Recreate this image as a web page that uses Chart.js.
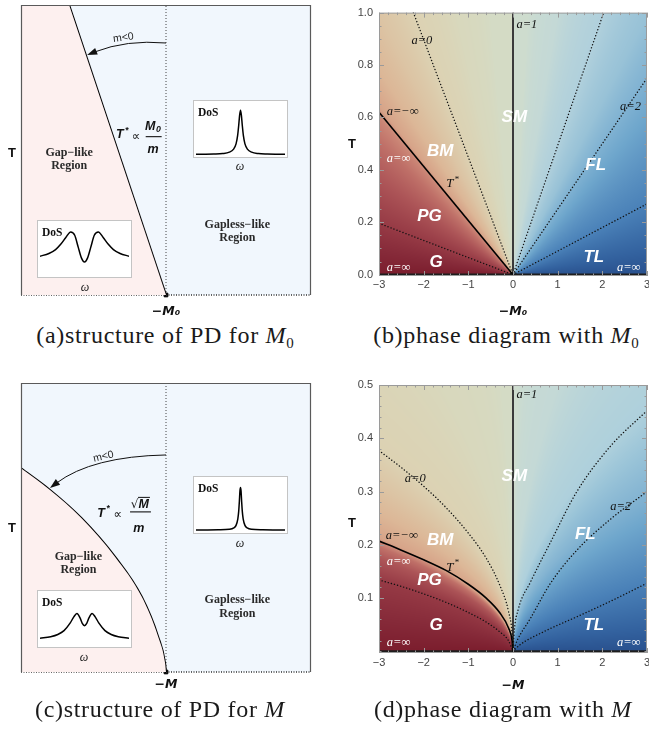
<!DOCTYPE html>
<html><head><meta charset="utf-8">
<script src="https://cdn.jsdelivr.net/npm/chart.js@4.4.1/dist/chart.umd.min.js"></script>
<style>
html,body{margin:0;padding:0;background:#fff;}
body{width:649px;height:729px;overflow:hidden;position:relative;}
canvas.main{position:absolute;}
.inset{position:absolute;background:#fff;border:1px solid #c4c4c4;box-sizing:border-box;}
.inset canvas{position:absolute;left:0;top:0;}
.dos{position:absolute;left:4px;top:5px;font:bold 11.5px 'Liberation Serif',serif;color:#111;line-height:12px;}
.omega{position:absolute;font:italic 12px 'Liberation Serif',serif;color:#222;transform:translate(-50%,-50%);}
.lbl{position:absolute;transform:translate(-50%,-50%);white-space:nowrap;}
.cap{font:24px 'Liberation Serif',serif;letter-spacing:0.7px;color:#1a1a1a;}
.cap sub{font-size:15px;letter-spacing:0;}
.ax{font:bold 13px 'Liberation Sans',sans-serif;color:#111;}
</style></head><body>
<canvas id="ca" class="main" width="330" height="320" style="left:0;top:0"></canvas>
<canvas id="cb" class="main" width="330" height="320" style="left:330px;top:0"></canvas>
<canvas id="cc" class="main" width="330" height="330" style="left:0;top:370px"></canvas>
<canvas id="cd" class="main" width="330" height="330" style="left:330px;top:370px"></canvas>

<div class="inset" style="left:193px;top:100px;width:95px;height:58px"><canvas id="ia1" width="93" height="56"></canvas><span class="dos">DoS</span></div>
<div class="omega" style="left:240px;top:166px">ω</div>
<div class="inset" style="left:37px;top:220px;width:95px;height:58px"><canvas id="ia2" width="93" height="56"></canvas><span class="dos">DoS</span></div>
<div class="omega" style="left:85px;top:287px">ω</div>
<div class="inset" style="left:193px;top:476px;width:95px;height:58px"><canvas id="ic1" width="93" height="56"></canvas><span class="dos">DoS</span></div>
<div class="omega" style="left:240px;top:543px">ω</div>
<div class="inset" style="left:37px;top:590px;width:95px;height:58px"><canvas id="ic2" width="93" height="56"></canvas><span class="dos">DoS</span></div>
<div class="omega" style="left:84px;top:657px">ω</div>

<div class="lbl ax" style="left:12px;top:152px">T</div>
<div class="lbl ax" style="left:352px;top:143px">T</div>
<div class="lbl ax" style="left:12px;top:527px">T</div>
<div class="lbl ax" style="left:352px;top:522px">T</div>

<div class="lbl cap" style="left:165px;top:337px">(a)structure of PD for <i>M</i><sub>0</sub></div>
<div class="lbl cap" style="left:506px;top:337px">(b)phase diagram with <i>M</i><sub>0</sub></div>
<div class="lbl cap" style="left:160px;top:709px">(c)structure of PD for <i>M</i></div>
<div class="lbl cap" style="left:503px;top:709px">(d)phase diagram with <i>M</i></div>

<script>
// ================= DATA =================
// (a) structure of PD for M0 -- schematic units 0..10
const aXTicks = [5];
const aXTickLabels = ['−M₀'];
const aTStarX = [1.66, 5];
const aTStarY = [10, 0];
const aArrowX = [5, 3.64, 2.28];   // start, control, tip
const aArrowY = [8.69, 8.81, 8.28];

// (c) structure of PD for M
const cXTicks = [5];
const cXTickLabels = ['−M'];
const cTStarX = [0, 1.0, 2.09, 3.24, 4.16, 4.73, 4.97, 5];
const cTStarY = [7.05, 6.30, 5.32, 3.99, 2.61, 1.22, 0.30, 0];
const cArrowX = [5, 2.45, 1.0];
const cArrowY = [7.51, 7.46, 6.37];

// DoS insets
const dosGaplessAW = [-1,-0.6,-0.4,-0.25,-0.16,-0.1,-0.065,-0.04,-0.02,0,0.02,0.04,0.065,0.1,0.16,0.25,0.4,0.6,1];
const dosGaplessA  = [0.033,0.037,0.045,0.07,0.12,0.22,0.37,0.56,0.74,0.83,0.74,0.56,0.37,0.22,0.12,0.07,0.045,0.037,0.033];
const dosGapAW = [-1,-0.8,-0.65,-0.53,-0.42,-0.31,-0.22,-0.14,-0.07,0,0.07,0.14,0.22,0.31,0.42,0.53,0.65,0.8,1];
const dosGapA  = [0.36,0.41,0.48,0.58,0.70,0.80,0.74,0.52,0.33,0.255,0.33,0.52,0.74,0.80,0.70,0.58,0.48,0.41,0.36];
const dosGaplessCW = [-1,-0.5,-0.25,-0.15,-0.1,-0.06,-0.04,-0.025,-0.012,0,0.012,0.025,0.04,0.06,0.1,0.15,0.25,0.5,1];
const dosGaplessC  = [0.036,0.04,0.05,0.076,0.12,0.24,0.38,0.565,0.75,0.81,0.75,0.565,0.38,0.24,0.12,0.076,0.05,0.04,0.036];
const dosGapCW = [-1,-0.76,-0.6,-0.46,-0.32,-0.24,-0.17,-0.1,-0.05,0,0.05,0.1,0.17,0.24,0.32,0.46,0.6,0.76,1];
const dosGapC  = [0.14,0.17,0.21,0.28,0.42,0.53,0.59,0.51,0.41,0.37,0.41,0.51,0.59,0.53,0.42,0.28,0.21,0.17,0.14];

// (b) phase diagram with M0
const bXTicks = [-3,-2,-1,0,1,2,3];
const bXTickLabels = ['−3','−2','−1','0','1','2','3'];
const bYTicks = [0,0.2,0.4,0.6,0.8,1.0];
const bYTickLabels = ['0.0','0.2','0.4','0.6','0.8','1.0'];
const bTStarX = [-3, 0],    bTStarY = [0.62, 0];
const bA0X = [-2.23, 0],    bA0Y = [1, 0];
const bLowLX = [-3, 0],     bLowLY = [0.196, 0];
const bUpRX = [0, 2.03],    bUpRY = [0, 1];
const bA2X = [0, 3],        bA2Y = [0, 0.75];
const bLowRX = [0, 3],      bLowRY = [0, 0.27];

// (d) phase diagram with M
const dXTicks = [-3,-2,-1,0,1,2,3];
const dXTickLabels = ['−3','−2','−1','0','1','2','3'];
const dYTicks = [0.1,0.2,0.3,0.4,0.5];
const dYTickLabels = ['0.1','0.2','0.3','0.4','0.5'];
const dA0X = [-3,-2.5,-2,-1.5,-1,-0.6,-0.3,-0.1,-0.02,0];
const dA0Y = [0.377,0.345,0.31,0.27,0.222,0.175,0.125,0.075,0.033,0];
const dTStarX = [-3,-2.5,-2,-1.5,-1,-0.6,-0.3,-0.1,-0.02,0];
const dTStarY = [0.207,0.19,0.172,0.152,0.126,0.1,0.073,0.044,0.02,0];
const dLowLX = [-3,-2.5,-2,-1.5,-1,-0.6,-0.3,-0.1,0];
const dLowLY = [0.134,0.122,0.108,0.092,0.073,0.055,0.037,0.02,0];
const dUpRX = [0,0.03,0.12,0.39,0.84,1.43,2.18,3];
const dUpRY = [0,0.04,0.08,0.13,0.205,0.3,0.385,0.452];
const dA2X = [0,0.09,0.39,0.84,1.43,2.18,3];
const dA2Y = [0,0.02,0.062,0.128,0.19,0.248,0.30];
const dLowRX = [0,0.15,0.69,1.43,2.18,3];
const dLowRY = [0,0.012,0.037,0.065,0.094,0.128];

// ================= STYLE / HELPERS =================
Chart.defaults.font.family = "'Liberation Sans', Arial, sans-serif";
const PINK = '#fdf0ef', LBLUE = '#f1f7fd';
const pts = (xs, ys) => xs.map((x, i) => ({x, y: ys[i]}));

function hex(h){return [parseInt(h.slice(1,3),16),parseInt(h.slice(3,5),16),parseInt(h.slice(5,7),16)];}
function prep(stops){return stops.map(s=>[s[0],hex(s[1])]);}
function interp(st,u){
  if(u<=st[0][0]) return st[0][1];
  for(let i=1;i<st.length;i++){
    if(u<=st[i][0]){const a=st[i-1],b=st[i];const t=(u-a[0])/(b[0]-a[0]);
      return [a[1][0]+(b[1][0]-a[1][0])*t,a[1][1]+(b[1][1]-a[1][1])*t,a[1][2]+(b[1][2]-a[1][2])*t];}
  }
  return st[st.length-1][1];
}
const heatB = {
  p:1,
  left: prep([[0,'#7b1d2d'],[0.03,'#862a39'],[0.065,'#963a45'],[0.12,'#ac5457'],[0.17,'#bf7068'],[0.2,'#cb8676'],[0.215,'#d7a489'],[0.26,'#dcb797'],[0.33,'#dcc4a4'],[0.45,'#dcd2b3'],[0.8,'#d8d8bd'],[2,'#d4dbc5'],[1e6,'#d2dcc9']]),
  right: prep([[0,'#29518e'],[0.03,'#33629f'],[0.09,'#4a81b8'],[0.15,'#5e95c3'],[0.2,'#6ea6cc'],[0.25,'#80b2d2'],[0.33,'#98c2d7'],[0.49,'#b0d0dc'],[1,'#c4d9d6'],[3,'#cedcce'],[1e6,'#d2dcc9']])
};
const heatD = {
  p:0.5,
  left: prep([[0,'#7b1d2d'],[0.035,'#862a39'],[0.077,'#963a45'],[0.1,'#ac5457'],[0.113,'#bf7068'],[0.118,'#cb8676'],[0.123,'#d7a489'],[0.15,'#dcb797'],[0.18,'#dcc4a4'],[0.22,'#dcd2b3'],[0.4,'#d8d8bd'],[1,'#d4dbc5'],[1e6,'#d2dcc9']]),
  right: prep([[0,'#29518e'],[0.025,'#33629f'],[0.074,'#4a81b8'],[0.11,'#5e95c3'],[0.14,'#6ea6cc'],[0.173,'#84b4d2'],[0.22,'#9ac4d8'],[0.261,'#aed0dc'],[0.5,'#c4d9d6'],[1.5,'#cedcce'],[1e6,'#d2dcc9']])
};
function heatPlugin(h){
  return {id:'heat', beforeDraw(chart){
    const {ctx, chartArea:ca, scales:{x,y}} = chart;
    const L=Math.round(ca.left),T=Math.round(ca.top),w=Math.round(ca.right)-L,hh=Math.round(ca.bottom)-T;
    const off=document.createElement('canvas');off.width=w;off.height=hh;
    const o=off.getContext('2d');const img=o.createImageData(w,hh);const d=img.data;
    for(let j=0;j<hh;j++){const tv=Math.max(0,y.getValueForPixel(T+j+0.5));
      for(let i=0;i<w;i++){const xv=x.getValueForPixel(L+i+0.5);let c;
        if(xv<0) c=interp(h.left, tv/Math.pow(-xv,h.p));
        else if(xv>0) c=interp(h.right, tv/Math.pow(xv,h.p));
        else c=h.right[h.right.length-1][1];
        const k=(j*w+i)*4;d[k]=c[0];d[k+1]=c[1];d[k+2]=c[2];d[k+3]=255;}}
    o.putImageData(img,0,0);ctx.drawImage(off,L,T);
  }};
}
function frameTicks(xStep,yStep){
  return {id:'frameTicks', afterDatasetsDraw(chart){
    const {ctx, chartArea:ca, scales:{x,y}} = chart;
    ctx.save();ctx.strokeStyle='#9a9a9a';ctx.lineWidth=1;
    ctx.strokeRect(ca.left+0.5,ca.top+0.5,ca.right-ca.left-1,ca.bottom-ca.top-1);
    ctx.beginPath();
    const xm=x.ticks.map(t=>t.value), ym=y.ticks.map(t=>t.value);
    for(let k=Math.ceil(x.min/xStep-1e-9);k<=Math.floor(x.max/xStep+1e-9);k++){
      const v=k*xStep;const L=xm.some(m=>Math.abs(m-v)<1e-6)?5:2.5;const px=Math.round(x.getPixelForValue(v))+0.5;
      ctx.moveTo(px,ca.bottom);ctx.lineTo(px,ca.bottom-L);ctx.moveTo(px,ca.top);ctx.lineTo(px,ca.top+L);}
    for(let k=Math.ceil(y.min/yStep-1e-9);k<=Math.floor(y.max/yStep+1e-9);k++){
      const v=k*yStep;const L=ym.some(m=>Math.abs(m-v)<1e-6)?5:2.5;const py=Math.round(y.getPixelForValue(v))+0.5;
      ctx.moveTo(ca.left,py);ctx.lineTo(ca.left+L,py);ctx.moveTo(ca.right,py);ctx.lineTo(ca.right-L,py);}
    ctx.stroke();ctx.restore();
  }};
}
const FONTS = {
  region: ["bold italic 17px 'Liberation Sans'", '#ffffff'],
  aBlk: ["italic 12.5px 'Liberation Serif'", '#111111'],
  aWht: ["italic 12.5px 'Liberation Serif'", '#ffffff'],
  tstar: ["italic 13px 'Liberation Serif'", '#111111'],
  gap: ["bold 12px 'Liberation Serif'", '#2a2a2a'],
  small: ["10.5px 'Liberation Sans'", '#222222'],
  math: ["bold italic 12.5px 'Liberation Sans'", '#111111'],
  prop: ["12px 'DejaVu Sans'", '#111111']
};
function textPlugin(items){
  return {id:'texts', afterDraw(chart){
    const {ctx, scales:{x,y}} = chart;
    ctx.save();ctx.textAlign='center';ctx.textBaseline='middle';
    for(const it of items){
      const px=x.getPixelForValue(it.x), py=y.getPixelForValue(it.y);
      const f=FONTS[it.k]||FONTS.math;ctx.font=f[0];ctx.fillStyle=f[1];ctx.strokeStyle=f[1];
      const fs=parseFloat(f[0].match(/([\d.]+)px/)[1]);
      if(it.k==='bar'){ctx.lineWidth=1.1;ctx.beginPath();ctx.moveTo(px,py);ctx.lineTo(x.getPixelForValue(it.x2),py);ctx.stroke();continue;}
      ctx.save();ctx.translate(px,py);if(it.rot)ctx.rotate(it.rot*Math.PI/180);
      if(it.star){ // T with superscript *
        const w=ctx.measureText(it.t).width;ctx.fillText(it.t,-2,0);
        ctx.font=f[0].replace(/[\d.]+px/,(fs*0.7).toFixed(1)+'px');ctx.fillText('*',w/2+1,-fs*0.35);
      } else if(it.sub){ // text with subscript
        const w=ctx.measureText(it.t).width;const sf=f[0].replace(/[\d.]+px/,(fs*0.7).toFixed(1)+'px');
        ctx.font=sf;const ws=ctx.measureText(it.sub).width;const tot=w+ws+0.5;
        ctx.font=f[0];ctx.fillText(it.t,-tot/2+w/2,0);ctx.font=sf;ctx.fillText(it.sub,-tot/2+w+0.5+ws/2,fs*0.3);
      } else if(it.sqrt){
        ctx.font=FONTS.prop[0];const ws=ctx.measureText('√').width;ctx.font=f[0];const wm=ctx.measureText(it.t).width;
        const tot=ws+wm;ctx.font=FONTS.prop[0];ctx.fillText('√',-tot/2+ws/2,0);ctx.font=f[0];ctx.fillText(it.t,-tot/2+ws+wm/2,0);
        ctx.lineWidth=1;ctx.beginPath();ctx.moveTo(-tot/2+ws-0.5,-7);ctx.lineTo(tot/2+1,-7);ctx.stroke();
      } else ctx.fillText(it.t,0,0);
      ctx.restore();
    }
    ctx.restore();
  }};
}
function arrowPlugin(AX,AY){
  return {id:'arrow', afterDatasetsDraw(chart){
    const {ctx, scales:{x,y}} = chart;
    const p=AX.map((v,i)=>[x.getPixelForValue(v),y.getPixelForValue(AY[i])]);
    const ang=Math.atan2(p[2][1]-p[1][1],p[2][0]-p[1][0]);const len=10,hw=3.6;
    const ex=p[2][0]-Math.cos(ang)*len*0.8, ey=p[2][1]-Math.sin(ang)*len*0.8;
    ctx.save();ctx.strokeStyle='#111';ctx.fillStyle='#111';ctx.lineWidth=1;
    ctx.beginPath();ctx.moveTo(p[0][0],p[0][1]);ctx.quadraticCurveTo(p[1][0],p[1][1],ex,ey);ctx.stroke();
    const bx=p[2][0]-Math.cos(ang)*len, by=p[2][1]-Math.sin(ang)*len;
    ctx.beginPath();ctx.moveTo(p[2][0],p[2][1]);
    ctx.lineTo(bx+Math.sin(ang)*hw,by-Math.cos(ang)*hw);ctx.lineTo(bx-Math.sin(ang)*hw,by+Math.cos(ang)*hw);ctx.closePath();ctx.fill();
    ctx.restore();
  }};
}
function bgPlugin(color){
  return {id:'bg', beforeDraw(chart){const {ctx,chartArea:ca}=chart;ctx.save();ctx.fillStyle=color;ctx.fillRect(ca.left,ca.top,ca.right-ca.left,ca.bottom-ca.top);ctx.restore();}};
}
function schemFrame(){
  return {id:'sframe', afterDatasetsDraw(chart){const {ctx,chartArea:ca}=chart;ctx.save();ctx.strokeStyle='#5a5a5a';ctx.lineWidth=1.2;
    ctx.beginPath();ctx.moveTo(ca.left+0.5,ca.bottom);ctx.lineTo(ca.left+0.5,ca.top+0.5);ctx.lineTo(ca.right-0.5,ca.top+0.5);ctx.lineTo(ca.right-0.5,ca.bottom);ctx.stroke();ctx.restore();}};
}
const baseOpts = {responsive:false, animation:false, events:[], plugins:{legend:{display:false}, tooltip:{enabled:false}}};
const MLABEL_FONT = {size:12.5, weight:'bold', style:'italic', family:"'DejaVu Sans', 'Liberation Sans', sans-serif"};

function schematic(id, o){
  const ds = [
    {data:pts(o.regX,o.regY), showLine:true, borderWidth:0, borderColor:'rgba(0,0,0,0)', pointRadius:0, fill:'origin', backgroundColor:PINK, cubicInterpolationMode:o.interp, tension:0},
    {data:pts(o.tX,o.tY), showLine:true, borderColor:'#000', borderWidth:2, pointRadius:0, cubicInterpolationMode:o.interp, tension:0},
    {data:pts([o.ticks[0],o.ticks[0]],[0,10]), showLine:true, borderColor:'#444', borderWidth:1, borderDash:[1,2], pointRadius:0},
    {data:pts([0,10],[0,0]), showLine:true, borderColor:'#333', borderWidth:1.3, borderDash:[1,1.5], pointRadius:0, clip:4},
    {data:[{x:o.ticks[0],y:0}], showLine:false, pointStyle:'rect', pointRadius:2.6, backgroundColor:'#000', borderColor:'#000', clip:6}
  ];
  new Chart(document.getElementById(id), {type:'scatter', data:{datasets:ds},
    options:Object.assign({}, baseOpts, {
      layout:{padding:{left:21,right:19,top:o.padTop,bottom:0}},
      scales:{
        x:{type:'linear',min:0,max:10, afterBuildTicks:s=>{s.ticks=o.ticks.map(v=>({value:v}));},
           ticks:{callback:(v,i)=>o.labels[i], font:MLABEL_FONT, color:'#111', padding:o.tickPad, maxRotation:0, autoSkip:false},
           grid:{display:false, drawTicks:false}, border:{display:false}, afterFit:s=>{s.height=o.xh;}},
        y:{type:'linear',min:0,max:10,display:false}
      }}),
    plugins:[bgPlugin(LBLUE), schemFrame(), arrowPlugin(o.arX,o.arY), textPlugin(o.texts)]
  });
}
const dotted = (xs,ys)=>({data:pts(xs,ys), showLine:true, borderColor:'#111', borderWidth:1.4, borderDash:[0.1,3.1], borderCapStyle:'round', pointRadius:0, cubicInterpolationMode:'monotone'});
const solid = (xs,ys,c,w)=>({data:pts(xs,ys), showLine:true, borderColor:c, borderWidth:w, pointRadius:0, cubicInterpolationMode:'monotone'});

function phase(id, o){
  new Chart(document.getElementById(id), {type:'scatter', data:{datasets:o.ds},
    options:Object.assign({}, baseOpts, {
      layout:{padding:{left:0,right:13,top:o.padTop,bottom:0}},
      scales:{
        x:{type:'linear',min:-3,max:3, afterBuildTicks:s=>{s.ticks=o.xt.map(v=>({value:v}));},
           ticks:{callback:(v,i)=>o.xl[i], font:{size:11}, color:'#444', padding:o.xtp, maxRotation:0, autoSkip:false},
           grid:{display:false, drawTicks:false}, border:{display:false},
           title:{display:true, text:o.xTitle, font:MLABEL_FONT, color:'#111', padding:{top:0,bottom:o.titlePad}},
           afterFit:s=>{s.height=o.xh;}},
        y:{type:'linear',min:o.ymin,max:o.ymax, afterBuildTicks:s=>{s.ticks=o.yt.map(v=>({value:v}));},
           ticks:{callback:(v,i)=>o.yl[i], font:{size:11}, color:'#444', padding:6, autoSkip:false},
           grid:{display:false, drawTicks:false}, border:{display:false}, afterFit:s=>{s.width=49;}}
      }}),
    plugins:[heatPlugin(o.heat), frameTicks(0.2,o.yStep), textPlugin(o.texts)]
  });
}
function dos(id, xs, ys){
  new Chart(document.getElementById(id), {type:'scatter', data:{datasets:[{data:pts(xs,ys), showLine:true, borderColor:'#000', borderWidth:1.5, pointRadius:0, cubicInterpolationMode:'monotone'}]},
    options:Object.assign({}, baseOpts, {layout:{padding:{left:2,right:2,top:0,bottom:1}},
      scales:{x:{type:'linear',min:-1,max:1,display:false}, y:{type:'linear',min:0,max:1,display:false}}})});
}

// ================= BUILD =================
schematic('ca', {regX:[0,...aTStarX], regY:[10,...aTStarY], tX:aTStarX, tY:aTStarY, interp:'default',
  ticks:aXTicks, labels:aXTickLabels, padTop:5, xh:25, tickPad:9, arX:aArrowX, arY:aArrowY,
  texts:[
    {t:'Gap−like',x:1.66,y:4.90,k:'gap'},{t:'Region',x:1.66,y:4.45,k:'gap'},
    {t:'Gapless−like',x:7.46,y:2.41,k:'gap'},{t:'Region',x:7.46,y:1.96,k:'gap'},
    {t:'m<0',x:3.53,y:8.87,k:'small',rot:-8},
    {t:'T',x:3.48,y:5.52,k:'math',star:true},{t:'∝',x:3.97,y:5.45,k:'prop'},
    {t:'M',sub:'0',x:4.55,y:5.82,k:'math'},{x:4.30,x2:4.85,y:5.46,k:'bar'},{t:'m',x:4.55,y:5.03,k:'math'}
  ]});
schematic('cc', {regX:cTStarX, regY:cTStarY, tX:cTStarX, tY:cTStarY, interp:'monotone',
  ticks:cXTicks, labels:cXTickLabels, padTop:13, xh:28, tickPad:5, arX:cArrowX, arY:cArrowY,
  texts:[
    {t:'Gap−like',x:1.98,y:3.97,k:'gap'},{t:'Region',x:1.98,y:3.53,k:'gap'},
    {t:'Gapless−like',x:7.46,y:2.49,k:'gap'},{t:'Region',x:7.46,y:2.0,k:'gap'},
    {t:'m<0',x:2.84,y:7.45,k:'small',rot:-13},
    {t:'T',x:2.83,y:5.49,k:'math',star:true},{t:'∝',x:3.34,y:5.43,k:'prop'},
    {t:'M',x:4.10,y:5.80,k:'math',sqrt:true},{x:3.76,x2:4.48,y:5.54,k:'bar'},{t:'m',x:4.06,y:4.97,k:'math'}
  ]});

phase('cb', {xt:bXTicks, xl:bXTickLabels, yt:bYTicks, yl:bYTickLabels, ymin:-0.005, ymax:1, yStep:0.05,
  padTop:7, xh:44, xtp:2.4, titlePad:0.5, xTitle:'−M₀', heat:heatB,
  ds:[
    dotted(bA0X,bA0Y), dotted(bLowLX,bLowLY), dotted(bUpRX,bUpRY), dotted(bA2X,bA2Y), dotted(bLowRX,bLowRY),
    solid(bTStarX,bTStarY,'#000',1.6), solid([0,0],[0,1],'#3a3a3a',2), solid([-3,3],[0,0],'#1e1e1e',2.5)
  ],
  texts:[
    {t:'a=1',x:0.31,y:0.955,k:'aBlk'},{t:'a=0',x:-2.04,y:0.893,k:'aBlk'},{t:'a=−∞',x:-2.47,y:0.62,k:'aBlk'},
    {t:'a=2',x:2.63,y:0.64,k:'aBlk'},{t:'SM',x:0.03,y:0.6,k:'region'},{t:'BM',x:-1.63,y:0.469,k:'region'},
    {t:'a=∞',x:-2.56,y:0.444,k:'aWht'},{t:'T',x:-1.37,y:0.347,k:'tstar',star:true},{t:'PG',x:-1.87,y:0.223,k:'region'},
    {t:'FL',x:1.85,y:0.419,k:'region'},{t:'G',x:-1.72,y:0.047,k:'region'},{t:'a=∞',x:-2.56,y:0.025,k:'aWht'},
    {t:'TL',x:1.81,y:0.066,k:'region'},{t:'a=∞',x:2.59,y:0.025,k:'aWht'}
  ]});
phase('cd', {xt:dXTicks, xl:dXTickLabels, yt:dYTicks, yl:dYTickLabels, ymin:-0.003, ymax:0.5, yStep:0.02,
  padTop:15, xh:47, xtp:3.4, titlePad:7.2, xTitle:'−M', heat:heatD,
  ds:[
    dotted(dA0X,dA0Y), dotted(dLowLX,dLowLY), dotted(dUpRX,dUpRY), dotted(dA2X,dA2Y), dotted(dLowRX,dLowRY),
    solid(dTStarX,dTStarY,'#000',1.6), solid([0,0],[0,0.5],'#3a3a3a',2), solid([-3,3],[0,0],'#1e1e1e',2.5)
  ],
  texts:[
    {t:'a=1',x:0.31,y:0.481,k:'aBlk'},{t:'a=0',x:-2.19,y:0.324,k:'aBlk'},{t:'SM',x:0.03,y:0.329,k:'region'},
    {t:'a=2',x:2.41,y:0.271,k:'aBlk'},{t:'a=−∞',x:-2.49,y:0.217,k:'aBlk'},{t:'BM',x:-1.63,y:0.209,k:'region'},
    {t:'FL',x:1.62,y:0.22,k:'region'},{t:'a=∞',x:-2.56,y:0.169,k:'aWht'},{t:'T',x:-1.37,y:0.158,k:'tstar',star:true},
    {t:'PG',x:-1.87,y:0.134,k:'region'},{t:'G',x:-1.72,y:0.049,k:'region'},{t:'TL',x:1.81,y:0.049,k:'region'},
    {t:'a=∞',x:-2.56,y:0.016,k:'aWht'},{t:'a=∞',x:2.59,y:0.016,k:'aWht'}
  ]});

dos('ia1', dosGaplessAW, dosGaplessA);
dos('ia2', dosGapAW, dosGapA);
dos('ic1', dosGaplessCW, dosGaplessC);
dos('ic2', dosGapCW, dosGapC);
</script>
</body></html>
